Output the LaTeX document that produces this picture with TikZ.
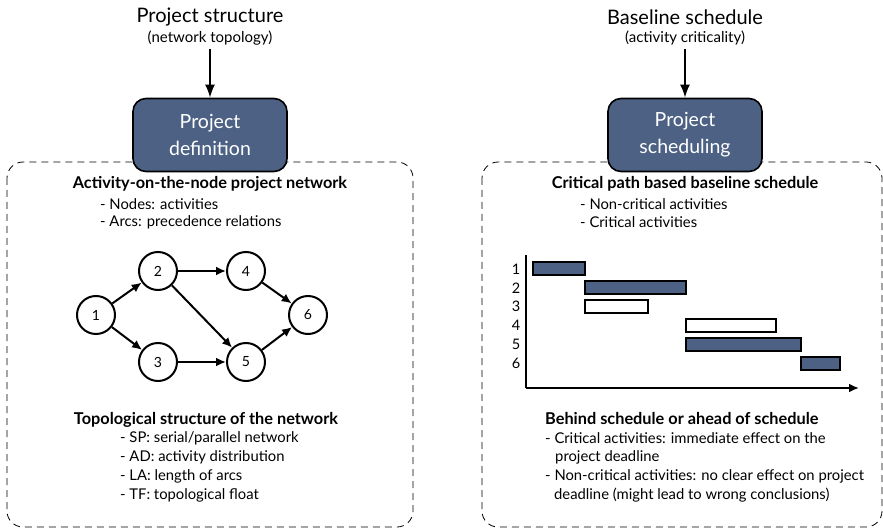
\documentclass[tikz,border=0pt]{standalone}
\usepackage{fontspec}
\setmainfont{Lato}
\usetikzlibrary{arrows.meta, positioning}

\definecolor{slate}{RGB}{76,97,132}

\begin{document}
\begin{tikzpicture}[
    x=1pt, y=-1pt,
    >={Latex[length=10pt, width=9pt]}, % Set default arrow tip style
    phase/.style={draw=black, line width=1.6pt, fill=slate, rounded corners=13pt,
        minimum width=154pt, minimum height=73pt, text=white, align=center,
        font=\fontsize{19.5}{27}\selectfont}, % Style for the blue phase boxes
    frame/.style={line width=0.8pt, dash pattern=on 7pt off 5pt, rounded corners=16pt}, % Style for the dashed panels
    heading/.style={font=\fontsize{20}{22}\selectfont}, % Style for top headings
    sub/.style={font=\fontsize{15}{17}\selectfont}, % Style for sub-headings
    title/.style={font=\bfseries\fontsize{16.3}{18}\selectfont}, % Style for bold titles
    item/.style={anchor=west, font=\fontsize{14.8}{17}\selectfont, inner sep=0pt}, % Style for list lines
    act/.style={circle, draw, line width=2pt, minimum size=38pt, inner sep=0pt,
        font=\fontsize{14}{16}\selectfont}, % Style for network nodes
    arc/.style={->, line width=2pt}, % Style for network arcs
    crit/.style={draw, line width=2pt, fill=slate}, % Style for critical bars
    noncrit/.style={draw, line width=2pt, fill=white}, % Style for non-critical bars
    axis/.style={->, line width=2pt} % Style for axes
]
    \useasboundingbox (0,0) rectangle (883,529);

    % Dashed panels
    \draw[frame] (7,162) rectangle (413,527);
    \draw[frame] (482,162) rectangle (882,527);

    % Headings
    \node[heading] (struct) at (210,17) {Project structure};
    \node[sub] (topo) at (210,38) {(network topology)};
    \node[heading] (base) at (685,17) {Baseline schedule};
    \node[sub] (critl) at (685,38) {(activity criticality)};

    % Phase boxes
    \node[phase] (def) at (210,135) {Project\\definition};
    \node[phase] (sched) at (685,135) {Project\\scheduling};
    \draw[->, line width=2pt, >={Latex[length=13pt, width=10pt]}] (topo) -- (def);
    \draw[->, line width=2pt, >={Latex[length=13pt, width=10pt]}] (critl) -- (sched);

    % Left panel text
    \node[title] (aon) at (210,184) {Activity-on-the-node project network};
    \node[item] (nodes) at (100,204) {- Nodes: activities};
    \node[item] (arcs) at (100,222) {- Arcs: precedence relations};

    % Project network
    \node[act] (n1) at (96,315) {1};
    \node[act] (n2) at (158,271) {2};
    \node[act] (n3) at (158,362) {3};
    \node[act] (n4) at (246,271) {4};
    \node[act] (n5) at (246,362) {5};
    \node[act] (n6) at (308,315) {6};
    \draw[arc] (n1) -- (n2);
    \draw[arc] (n1) -- (n3);
    \draw[arc] (n2) -- (n4);
    \draw[arc] (n2) -- (n5);
    \draw[arc] (n3) -- (n5);
    \draw[arc] (n4) -- (n6);
    \draw[arc] (n5) -- (n6);

    % Topology indicators
    \node[title] (tops) at (206,420) {Topological structure of the network};
    \node[item] (sp) at (120,438) {- SP: serial/parallel network};
    \node[item] (ad) at (120,457) {- AD: activity distribution};
    \node[item] (la) at (120,476) {- LA: length of arcs};
    \node[item] (tf) at (120,495) {- TF: topological float};

    % Right panel text
    \node[title] (cpm) at (685,184) {Critical path based baseline schedule};
    \node[item] (ncrit) at (580,204) {- Non-critical activities};
    \node[item] (crits) at (580,222) {- Critical activities};

    % Gantt chart
    \coordinate (origin) at (526,388);
    \coordinate (ytop) at (526,255);
    \coordinate (xend) at (859,388);
    \draw[line width=2pt] (ytop) -- (origin);
    \draw[axis] (origin) -- (xend);
    \foreach \i/\y in {1/269, 2/288, 3/306, 4/325, 5/344, 6/363}
        \node[font=\fontsize{14.5}{16}\selectfont] (lab\i) at (516,\y) {\i};
    \draw[crit] (533,262) rectangle (585,275);
    \draw[crit] (585,281) rectangle (686,294);
    \draw[noncrit] (585,300) rectangle (648,313);
    \draw[noncrit] (686,319) rectangle (776,332);
    \draw[crit] (686,338) rectangle (801,351);
    \draw[crit] (801,357) rectangle (840,370);

    % Schedule deviation
    \node[title, anchor=west, inner sep=0pt] (behind) at (545,419) {Behind schedule or ahead of schedule};
    \node[item] (c1) at (545,438) {- Critical activities: immediate effect on the};
    \node[item] (c2) at (555,457) {project deadline};
    \node[item] (c3) at (545,476) {- Non-critical activities: no clear effect on project};
    \node[item] (c4) at (554,495) {deadline (might lead to wrong conclusions)};
\end{tikzpicture}
\end{document}
